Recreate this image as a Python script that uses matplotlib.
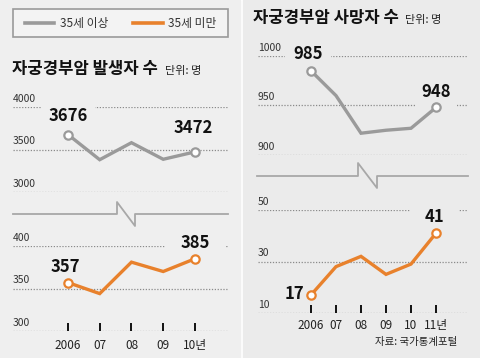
import matplotlib.pyplot as plt
from matplotlib.lines import Line2D
from matplotlib.patches import Rectangle

W, H = 480, 358

# data
years_inc = [2006, 2007, 2008, 2009, 2010]
inc_over35 = [3676, 3380, 3580, 3385, 3472]
inc_under35 = [357, 344, 381, 370, 385]
inc_labels = ["2006", "07", "08", "09", "10년"]

years_death = [2006, 2007, 2008, 2009, 2010, 2011]
death_over35 = [985, 960, 922, 925, 927, 948]
death_under35 = [17, 28, 32, 25, 29, 41]
death_labels = ["2006", "07", "08", "09", "10", "11년"]

GRAY = "#9a9a9a"
ORANGE = "#e8812c"
NUM = ["Liberation Sans Narrow", "Noto Sans CJK KR", "DejaVu Sans"]
KR = ["Noto Sans CJK KR", "DejaVu Sans"]

fig = plt.figure(figsize=(W / 100, H / 100), dpi=100)
fig.patch.set_facecolor("white")
fig.patches.append(Rectangle((0, 0), 240 / W, 1, transform=fig.transFigure,
                             color="#efefef", zorder=-5))
fig.patches.append(Rectangle((243 / W, 0), 237 / W, 1, transform=fig.transFigure,
                             color="#ebebeb", zorder=-5))


def fx(x):
    return x / W


def fy(y):
    return 1 - y / H


def add_ax(x0, x1, ytop, ybot):
    ax = fig.add_axes([fx(x0), fy(ybot), (x1 - x0) / W, (ybot - ytop) / H])
    ax.set_facecolor("none")
    for s in ax.spines.values():
        s.set_visible(False)
    return ax


def panel(ax, x, y, lo, hi, ticks, color, xlim):
    ax.set_xlim(*xlim)
    ax.set_ylim(lo, hi)
    ax.set_yticks([])
    for t in ticks:
        ax.axhline(t, color="#8a8a8a", lw=0.9, ls=(0, (1, 1.3)), zorder=1)
        ax.annotate(str(t), xy=(0, t), xycoords=ax.get_yaxis_transform(),
                    xytext=(0, 2.5), textcoords="offset points",
                    ha="left", va="bottom", fontsize=7.5, color="#333333",
                    family=NUM)
    ax.plot(x, y, color=color, lw=2.4, zorder=4, clip_on=False,
            solid_joinstyle="miter")
    ax.plot([x[0], x[-1]], [y[0], y[-1]], ls="none", marker="o", ms=6,
            mfc="white", mec=color, mew=1.6, zorder=5, clip_on=False)


def vlabel(ax, x, y, text, dx, dy, bg, ha="center", pad=0.35):
    ax.annotate(text, xy=(x, y), xytext=(dx, dy), textcoords="offset points",
                ha=ha, va="center", fontsize=12, fontweight="bold",
                color="#111111", family=NUM, zorder=3,
                bbox=dict(boxstyle="square,pad=%s" % pad, fc=bg, ec="none"))


def xticks(ax, x, labels, pad):
    ax.set_xticks(x)
    ax.set_xticklabels(labels, fontsize=8.5, color="#222222", family=NUM)
    ax.tick_params(axis="x", direction="in", length=6, width=1.4,
                   color="#111111", pad=pad)


def brk(points):
    xs = [fx(p[0]) for p in points]
    ys = [fy(p[1]) for p in points]
    fig.add_artist(Line2D(xs, ys, transform=fig.transFigure, color="#a8a8a8",
                          lw=1.3))


BG_L = "#efefef"
BG_R = "#ebebeb"

# ---- left: incidence ----
leg = Rectangle((fx(13), fy(37)), (228 - 13) / W, 28 / H, transform=fig.transFigure,
                fc="#f3f3f3", ec="#9a9a9a", lw=1.2)
fig.add_artist(leg)
fig.add_artist(Line2D([fx(25), fx(54)], [fy(23), fy(23)], transform=fig.transFigure,
                      color=GRAY, lw=2.6))
fig.text(fx(60), fy(23), "35세 이상", fontsize=8.5, va="center", family=KR,
         color="#333333")
fig.add_artist(Line2D([fx(133), fx(163)], [fy(23), fy(23)], transform=fig.transFigure,
                      color=ORANGE, lw=2.6))
fig.text(fx(168), fy(23), "35세 미만", fontsize=8.5, va="center", family=KR,
         color="#333333")

fig.text(fx(12), fy(69), "자궁경부암 발생자 수", fontsize=12, fontweight="bold",
         va="center", family=KR, color="#111111")
fig.text(fx(165), fy(71), "단위: 명", fontsize=8, va="center", family=KR,
         color="#222222")

xl_inc = (2004.27, 2011.04)
ax1 = add_ax(13, 228, 107, 192)
panel(ax1, years_inc, inc_over35, 3000, 4000, [4000, 3500, 3000], GRAY, xl_inc)
ax1.set_xticks([])
vlabel(ax1, years_inc[0], inc_over35[0], str(inc_over35[0]), 0, 13.5, BG_L, pad=0.45)
vlabel(ax1, years_inc[-1], inc_over35[-1], str(inc_over35[-1]), -1, 17, BG_L)

brk([(13, 214), (117, 214), (117, 202), (135, 226), (135, 214), (228, 214)])

ax2 = add_ax(13, 228, 246, 331)
panel(ax2, years_inc, inc_under35, 300, 400, [400, 350, 300], ORANGE, xl_inc)
vlabel(ax2, years_inc[0], inc_under35[0], str(inc_under35[0]), -2, 11, BG_L)
vlabel(ax2, years_inc[-1], inc_under35[-1], str(inc_under35[-1]), 0, 11, BG_L, pad=0.9)
xticks(ax2, years_inc, inc_labels, 6)

# ---- right: deaths ----
fig.text(fx(253), fy(18), "자궁경부암 사망자 수", fontsize=12, fontweight="bold",
         va="center", family=KR, color="#111111")
fig.text(fx(405), fy(20), "단위: 명", fontsize=8, va="center", family=KR,
         color="#222222")

xl_d = (2003.88, 2012.28)
ax3 = add_ax(258, 468, 56, 155)
panel(ax3, years_death, death_over35, 900, 1000, [1000, 950, 900], GRAY, xl_d)
ax3.set_xticks([])
vlabel(ax3, years_death[0], death_over35[0], str(death_over35[0]), -2, 12, BG_R, pad=0.5)
vlabel(ax3, years_death[-1], death_over35[-1], str(death_over35[-1]), 0, 11, BG_R)

brk([(257, 176), (358, 176), (358, 163), (377, 188), (377, 176), (468, 176)])

ax4 = add_ax(258, 468, 210, 313)
panel(ax4, years_death, death_under35, 10, 50, [50, 30, 10], ORANGE, xl_d)
vlabel(ax4, years_death[0], death_under35[0], str(death_under35[0]), -5, 1, BG_R, ha="right")
vlabel(ax4, years_death[-1], death_under35[-1], str(death_under35[-1]), -1, 12, BG_R, pad=0.9)
xticks(ax4, years_death, death_labels, 4)

fig.text(fx(375), fy(342), "자료: 국가통계포털", fontsize=7.5, va="center",
         family=KR, color="#222222")

fig.savefig("out.png", dpi=100, facecolor=fig.get_facecolor())
